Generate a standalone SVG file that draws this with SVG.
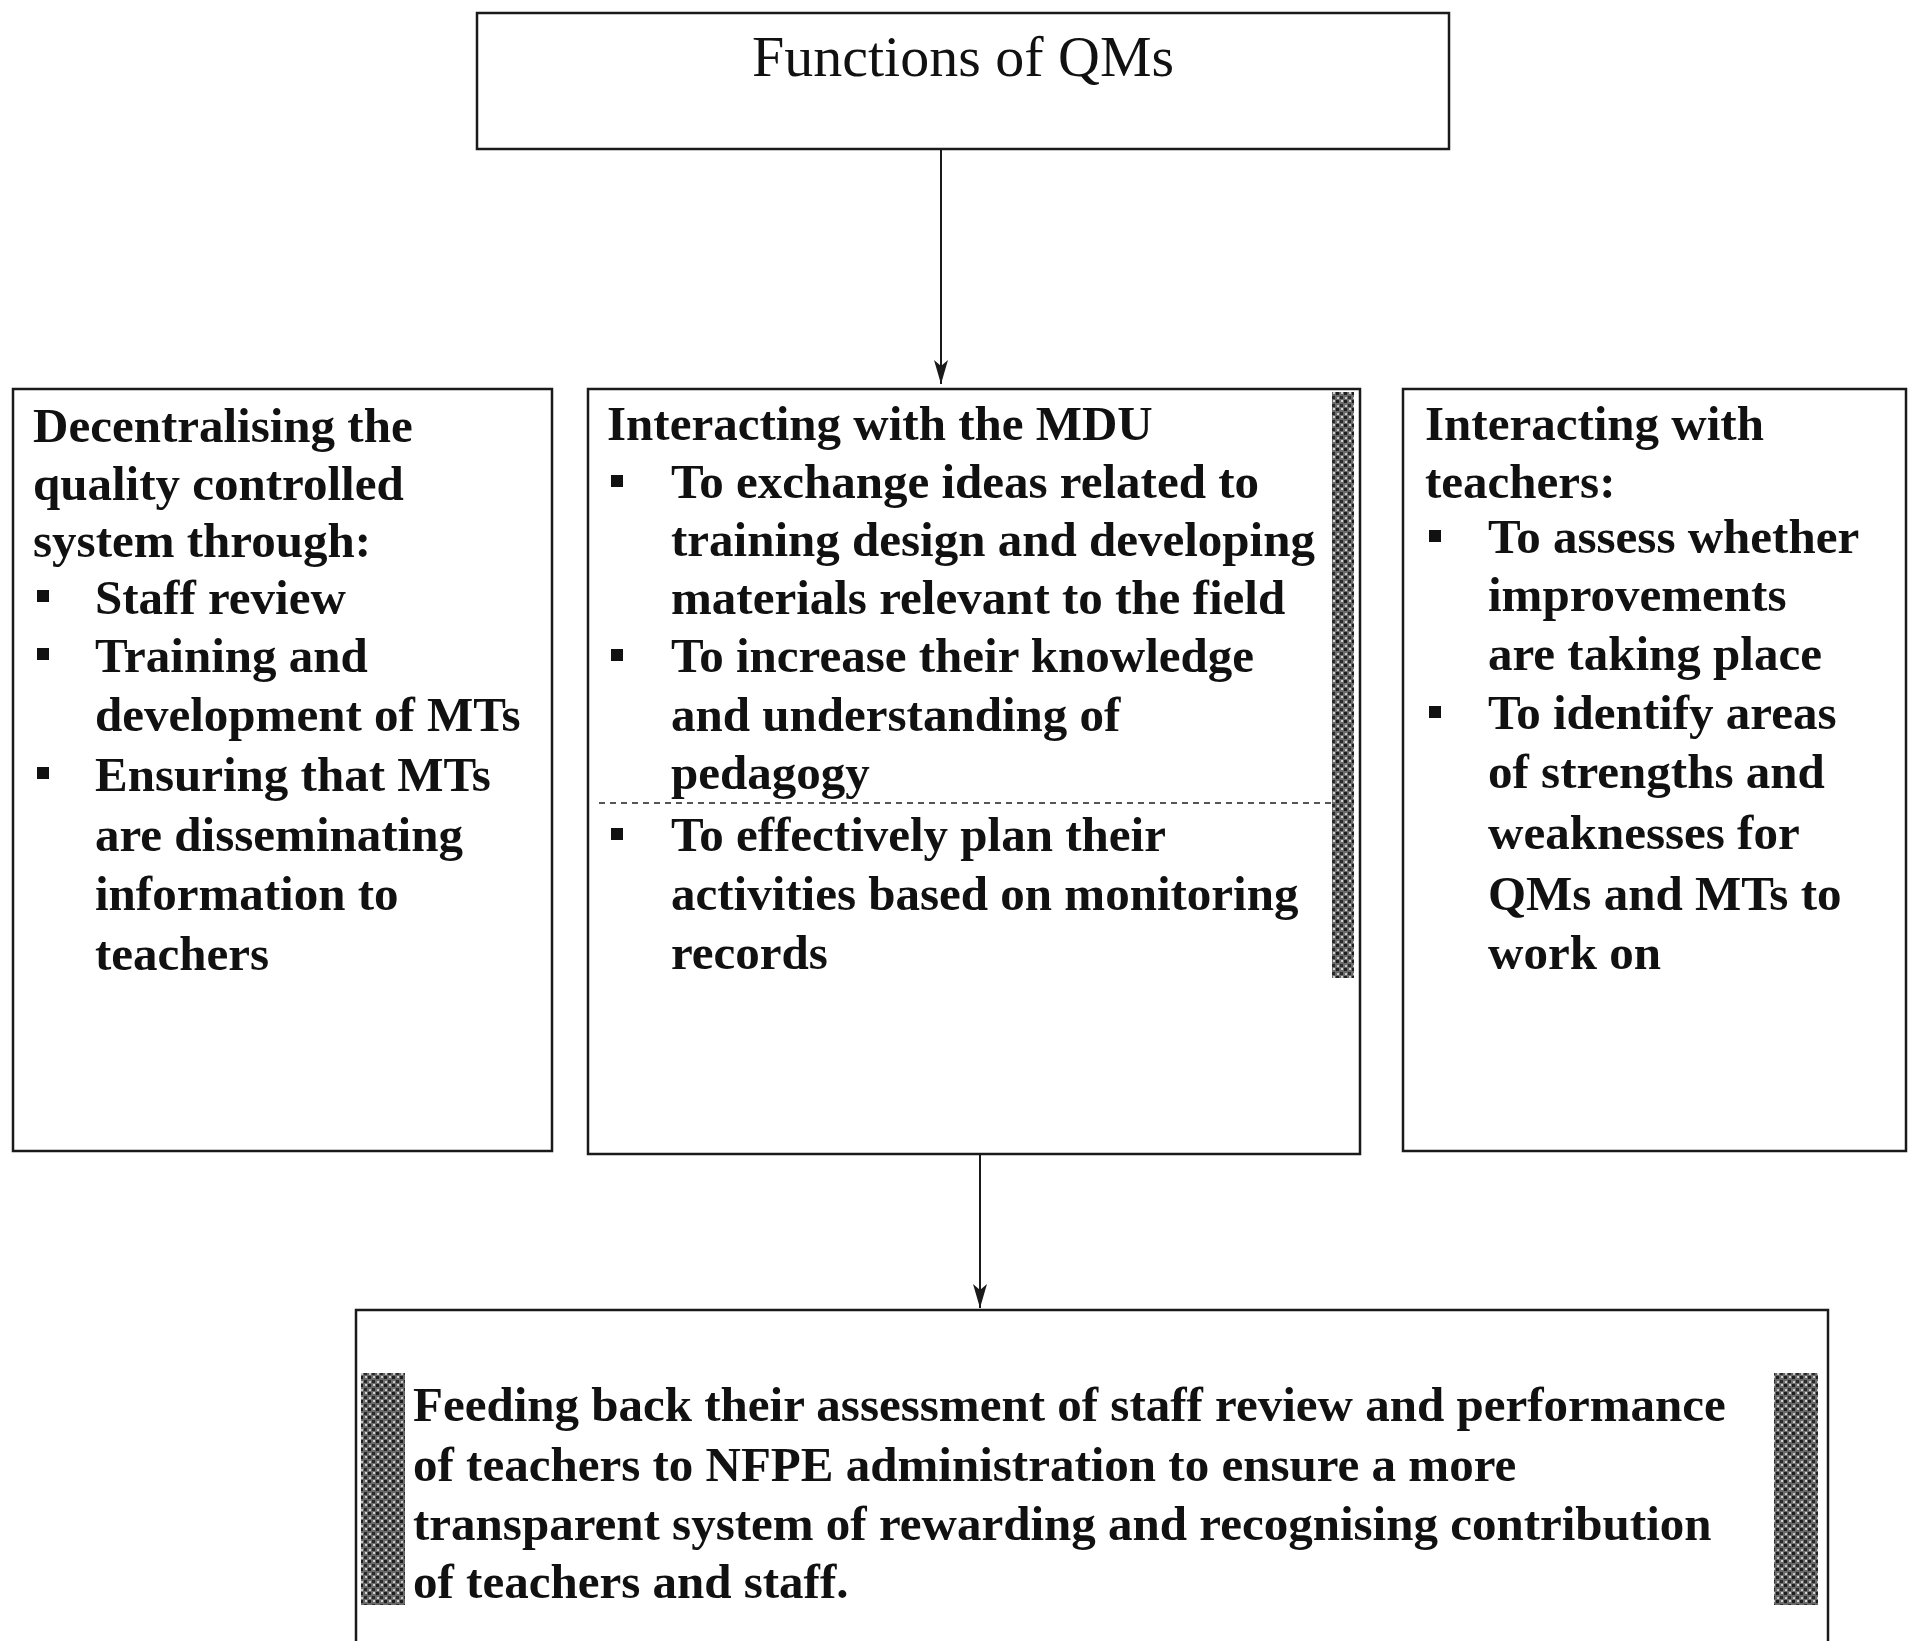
<svg xmlns="http://www.w3.org/2000/svg" width="1916" height="1641" viewBox="0 0 1916 1641">
  <defs>
    <style>
      .box { fill: #ffffff; stroke: #1a1a1a; stroke-width: 2.5; }
      .title { font-family: "Liberation Serif", "Times New Roman", serif; font-size: 58px; fill: #111; }
      .txt { font-family: "Liberation Serif", "Times New Roman", serif; font-size: 49px; font-weight: bold; fill: #111; }
      .bullet { fill: #111; }
      .conn { stroke: #1a1a1a; stroke-width: 2; fill: none; }
      .rule { stroke: #555; stroke-width: 2; stroke-dasharray: 6 5; fill: none; }
    </style>
    <!-- arrowhead drawn along +x so orient="auto" points it down the line -->
    <marker id="arrow" markerUnits="userSpaceOnUse" markerWidth="26" markerHeight="16" refX="24" refY="8" orient="auto" viewBox="0 0 26 16">
      <path d="M0,1 L24,8 L0,15 L6,8 Z" fill="#1a1a1a"/>
    </marker>
    <pattern id="grain" width="8" height="8" patternUnits="userSpaceOnUse">
      <rect width="8" height="8" fill="#6a6a6a"/>
      <rect x="0" y="0" width="3" height="3" fill="#1e1e1e"/>
      <rect x="4" y="4" width="3" height="3" fill="#2a2a2a"/>
      <rect x="5" y="0" width="2" height="2" fill="#d0d0d0"/>
      <rect x="1" y="5" width="2" height="2" fill="#c8c8c8"/>
    </pattern>
  </defs>

  <rect width="1916" height="1641" fill="#ffffff"/>

  <!-- connectors -->
  <g id="connectors">
    <line class="conn" x1="941" y1="149" x2="941" y2="384" marker-end="url(#arrow)"/>
    <line class="conn" x1="980" y1="1155" x2="980" y2="1308" marker-end="url(#arrow)"/>
  </g>

  <!-- top node -->
  <g id="node-functions">
    <rect class="box" x="477" y="13" width="972" height="136"/>
    <text class="title" x="963" y="76" text-anchor="middle">Functions of QMs</text>
  </g>

  <!-- left node -->
  <g id="node-decentralising">
    <rect class="box" x="13" y="389" width="539" height="762"/>
    <text class="txt" x="33" y="442">Decentralising the</text>
    <text class="txt" x="33" y="500">quality controlled</text>
    <text class="txt" x="33" y="557">system through:</text>
    <rect class="bullet" x="37" y="590" width="12" height="12"/>
    <text class="txt" x="95" y="614">Staff review</text>
    <rect class="bullet" x="37" y="648" width="12" height="12"/>
    <text class="txt" x="95" y="672">Training and</text>
    <text class="txt" x="95" y="731">development of MTs</text>
    <rect class="bullet" x="37" y="767" width="12" height="12"/>
    <text class="txt" x="95" y="791">Ensuring that MTs</text>
    <text class="txt" x="95" y="851">are disseminating</text>
    <text class="txt" x="95" y="910">information to</text>
    <text class="txt" x="95" y="970">teachers</text>
  </g>

  <!-- middle node -->
  <g id="node-mdu">
    <rect class="box" x="588" y="389" width="772" height="765"/>
    <rect x="1332" y="392" width="22" height="586" fill="url(#grain)"/>
    <line class="rule" x1="599" y1="803" x2="1332" y2="803"/>
    <text class="txt" x="607" y="440">Interacting with the MDU</text>
    <rect class="bullet" x="611" y="475" width="12" height="12"/>
    <text class="txt" x="671" y="498">To exchange ideas related to</text>
    <text class="txt" x="671" y="556">training design and developing</text>
    <text class="txt" x="671" y="614">materials relevant to the field</text>
    <rect class="bullet" x="611" y="649" width="12" height="12"/>
    <text class="txt" x="671" y="672">To increase their knowledge</text>
    <text class="txt" x="671" y="731">and understanding of</text>
    <text class="txt" x="671" y="789">pedagogy</text>
    <rect class="bullet" x="611" y="828" width="12" height="12"/>
    <text class="txt" x="671" y="851">To effectively plan their</text>
    <text class="txt" x="671" y="910">activities based on monitoring</text>
    <text class="txt" x="671" y="969">records</text>
  </g>

  <!-- right node -->
  <g id="node-teachers">
    <rect class="box" x="1403" y="389" width="503" height="762"/>
    <text class="txt" x="1425" y="440">Interacting with</text>
    <text class="txt" x="1425" y="498">teachers:</text>
    <rect class="bullet" x="1429" y="530" width="12" height="12"/>
    <text class="txt" x="1488" y="553">To assess whether</text>
    <text class="txt" x="1488" y="611">improvements</text>
    <text class="txt" x="1488" y="670">are taking place</text>
    <rect class="bullet" x="1429" y="706" width="12" height="12"/>
    <text class="txt" x="1488" y="729">To identify areas</text>
    <text class="txt" x="1488" y="788">of strengths and</text>
    <text class="txt" x="1488" y="849">weaknesses for</text>
    <text class="txt" x="1488" y="910">QMs and MTs to</text>
    <text class="txt" x="1488" y="969">work on</text>
  </g>

  <!-- bottom node -->
  <g id="node-feedback">
    <rect class="box" x="356" y="1310" width="1472" height="360"/>
    <rect x="361" y="1373" width="44" height="232" fill="url(#grain)"/>
    <rect x="1774" y="1373" width="44" height="232" fill="url(#grain)"/>
    <text class="txt" x="413" y="1421">Feeding back their assessment of staff review and performance</text>
    <text class="txt" x="413" y="1481">of teachers to NFPE administration to ensure a more</text>
    <text class="txt" x="413" y="1540">transparent system of rewarding and recognising contribution</text>
    <text class="txt" x="413" y="1598">of teachers and staff.</text>
  </g>
</svg>
